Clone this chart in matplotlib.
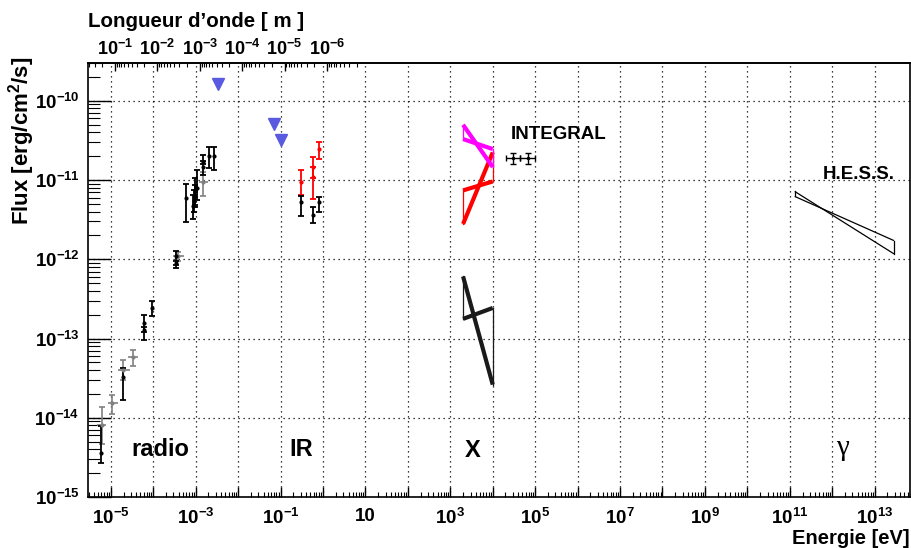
import numpy as np
import matplotlib
matplotlib.use("Agg")
import matplotlib.pyplot as plt
from matplotlib import ticker

# --- donnees (E en eV, flux en erg/cm2/s) ---

# radio, points noirs : E, F, F bas, F haut
radio_E = [6.0e-6, 1.97e-5, 6.05e-5, 6.05e-5, 9.2e-5, 3.43e-4, 3.43e-4, 5.9e-4,
           8.87e-4, 9.12e-4, 9.63e-4, 9.9e-4, 1.06e-3, 1.46e-3, 1.46e-3, 2.09e-3, 2.74e-3]
radio_F = [3.6e-15, 3.3e-14, 1.57e-13, 1.29e-13, 2.43e-13, 1.09e-12, 8.98e-13, 6.0e-12,
           4.64e-12, 5.48e-12, 6.34e-12, 7.18e-12, 8.0e-12, 1.48e-11, 1.67e-11, 1.99e-11, 1.99e-11]
radio_Flo = [2.7e-15, 1.66e-14, 9.7e-14, 1.2e-13, 1.95e-13, 7.8e-13, 8.5e-13, 2.95e-12,
             3.25e-12, 3.98e-12, 4.6e-12, 4.89e-12, 5.65e-12, 1.17e-11, 1.6e-11, 1.42e-11, 1.35e-11]
radio_Fhi = [7.8e-15, 4.2e-14, 1.96e-13, 1.4e-13, 2.94e-13, 1.26e-12, 9.5e-13, 8.97e-12,
             6.53e-12, 7.55e-12, 8.73e-12, 1.07e-11, 1.35e-11, 2.08e-11, 1.75e-11, 2.61e-11, 2.65e-11]

# radio, points gris
gray_E = [6.1e-6, 1.08e-5, 1.97e-5, 3.28e-5, 3.89e-4, 1.51e-3]
gray_Elo = [4.8e-6, 8.45e-6, 1.46e-5, 2.5e-5, 2.92e-4, 1.2e-3]
gray_Ehi = [7.9e-6, 1.5e-5, 2.83e-5, 4.45e-5, 5.38e-4, 1.98e-3]
gray_F = [8.2e-15, 1.54e-14, 4.06e-14, 5.86e-14, 1.09e-12, 9.33e-12]
gray_Flo = [4.6e-15, 1.1e-14, 3.03e-14, 4.55e-14, 9.5e-13, 6.34e-12]
gray_Fhi = [1.35e-14, 1.96e-14, 5.42e-14, 7.26e-14, 1.22e-12, 1.28e-11]

# limites superieures
ul_E = [3.3e-3, 0.07, 0.1]
ul_F = [1.64e-10, 5.13e-11, 3.16e-11]

# infrarouge
ir_red_E = [0.297, 0.589, 0.589, 0.804]
ir_red_F = [9.44e-12, 1.46e-11, 1.09e-11, 2.46e-11]
ir_red_Flo = [6.53e-12, 1.07e-11, 5.75e-12, 1.86e-11]
ir_red_Fhi = [1.32e-11, 1.95e-11, 1.47e-11, 2.98e-11]
ir_blk_E = [0.297, 0.589, 0.804]
ir_blk_F = [5.22e-12, 3.65e-12, 5.22e-12]
ir_blk_Flo = [3.55e-12, 2.87e-12, 3.94e-12]
ir_blk_Fhi = [6.21e-12, 4.52e-12, 6.11e-12]

# INTEGRAL
int_E = [2.94e4, 6.84e4]
int_Elo = [2.01e4, 4.36e4]
int_Ehi = [4.36e4, 9.84e4]
int_F = [1.89e-11, 1.89e-11]
int_Flo = [1.6e-11, 1.6e-11]
int_Fhi = [2.21e-11, 2.21e-11]

# papillons : [gauche haut, gauche bas, droite haut, droite bas]
x_band = [2e3, 1e4]
x_magenta = [4.98e-11, 3.29e-11, 2.46e-11, 1.46e-11]
x_red = [7.4e-12, 2.79e-12, 2.23e-11, 9.6e-12]
x_black = [6.08e-13, 1.77e-13, 2.43e-13, 2.62e-14]
hess_band = [1.31e11, 2.86e13]
hess_F = [7.18e-12, 6.21e-12, 1.72e-12, 1.17e-12]

HC = 1.2398e-6  # eV m

plt.rcParams['font.family'] = ['Liberation Sans', 'DejaVu Sans']
plt.rcParams['font.weight'] = 'bold'
plt.rcParams['mathtext.fontset'] = 'custom'
plt.rcParams['mathtext.rm'] = 'Liberation Sans:bold'
plt.rcParams['mathtext.it'] = 'Liberation Sans:bold'
plt.rcParams['mathtext.bf'] = 'Liberation Sans:bold'
plt.rcParams['mathtext.default'] = 'rm'


def yerr(F, lo, hi):
    F = np.array(F)
    return [F - np.array(lo), np.array(hi) - F]


def butterfly(E, p, color, lw):
    ax.plot(E, [p[0], p[3]], color=color, lw=lw, solid_capstyle='butt')
    ax.plot(E, [p[1], p[2]], color=color, lw=lw, solid_capstyle='butt')
    ax.plot([E[0], E[0]], [p[1], p[0]], color=color, lw=0.9)
    ax.plot([E[1], E[1]], [p[3], p[2]], color=color, lw=0.9)


def e_to_lam(e):
    e = np.asarray(e, dtype=float)
    with np.errstate(divide='ignore', invalid='ignore'):
        return HC / np.where(e > 0, e, 1e-300)


fig = plt.figure(figsize=(9.12, 5.48), dpi=100)
ax = fig.add_axes([88 / 912, 1 - 497 / 548, 822.5 / 912, 434 / 548])
ax.set_xscale('log')
ax.set_yscale('log')
ax.set_xlim(2.9e-6, 7e13)
ax.set_ylim(1e-15, 3e-10)

ax.grid(True, which='major', color='k', linestyle=(0, (1, 3)), linewidth=0.9)
ax.set_axisbelow(True)

# radio
ax.errorbar(gray_E, gray_F, xerr=yerr(gray_E, gray_Elo, gray_Ehi), fmt='none',
            ecolor='0.5', elinewidth=1.2)
ax.errorbar(gray_E, gray_F, yerr=yerr(gray_F, gray_Flo, gray_Fhi), fmt='o', ms=2,
            color='0.5', elinewidth=1.2, capsize=2.5, capthick=1.2)
ax.errorbar(radio_E, radio_F, yerr=yerr(radio_F, radio_Flo, radio_Fhi), fmt='o', ms=2,
            color='k', elinewidth=1.3, capsize=2.5, capthick=1.3)

# limites
ax.plot(ul_E, ul_F, 'v', ms=8, color='#5a5ae0', mec='#5a5ae0')

# IR
ax.errorbar(ir_red_E, ir_red_F, yerr=yerr(ir_red_F, ir_red_Flo, ir_red_Fhi), fmt='o', ms=2,
            color='red', elinewidth=1.3, capsize=2.5, capthick=1.3)
ax.errorbar(ir_blk_E, ir_blk_F, yerr=yerr(ir_blk_F, ir_blk_Flo, ir_blk_Fhi), fmt='o', ms=2,
            color='k', elinewidth=1.3, capsize=2.5, capthick=1.3)

# X
butterfly(x_band, x_red, 'red', 3)
butterfly(x_band, x_magenta, 'magenta', 3)
butterfly(x_band, x_black, '#1a1a1a', 3)

ax.errorbar(int_E, int_F, xerr=yerr(int_E, int_Elo, int_Ehi), yerr=yerr(int_F, int_Flo, int_Fhi),
            fmt='o', ms=1.5, color='k', elinewidth=1, capsize=2.5, capthick=1)

# gamma
butterfly(hess_band, hess_F, 'k', 0.9)

# textes
ax.text(1.44e-4, 4.0e-15, 'radio', fontsize=17, ha='center', va='center')
ax.text(0.30, 4.0e-15, 'IR', fontsize=17, ha='center', va='center')
ax.text(3.4e3, 3.9e-15, 'X', fontsize=17, ha='center', va='center')
ax.text(1.78e12, 4.2e-15, 'γ', fontsize=21, ha='center', va='center',
        family='Liberation Serif', weight='normal')
ax.text(3.6e5, 3.72e-11, 'INTEGRAL', fontsize=13.5, ha='center', va='center')
ax.text(4.2e12, 1.17e-11, 'H.E.S.S.', fontsize=13.5, ha='center', va='center')

# axe x (energie)
xdec = np.arange(-5, 14)
ax.xaxis.set_major_locator(ticker.FixedLocator(10.0 ** xdec))
xlabels = []
for k in xdec:
    if k % 2 == 0:
        xlabels.append('')
    elif k == 1:
        xlabels.append('10')
    else:
        xlabels.append(r'$10^{%d}$' % k)
ax.xaxis.set_major_formatter(ticker.FixedFormatter(xlabels))
ax.xaxis.set_minor_locator(ticker.LogLocator(base=10, subs=np.arange(2, 10), numticks=100))
ax.xaxis.set_minor_formatter(ticker.NullFormatter())

# axe y (flux)
ydec = np.arange(-15, -9)
ax.yaxis.set_major_locator(ticker.FixedLocator(10.0 ** ydec))
ax.yaxis.set_major_formatter(ticker.FixedFormatter([r'$10^{%d}$' % k for k in ydec]))
ax.yaxis.set_minor_locator(ticker.LogLocator(base=10, subs=np.arange(2, 10), numticks=100))
ax.yaxis.set_minor_formatter(ticker.NullFormatter())

ax.tick_params(axis='x', which='major', direction='in', length=7, width=1, top=False,
               labelsize=13.5, pad=8)
ax.tick_params(axis='x', which='minor', direction='in', length=3.6, width=0.8, top=False)
ax.tick_params(axis='y', which='major', direction='in', length=16.5, width=1, right=False,
               labelsize=13.5, pad=6)
ax.tick_params(axis='y', which='minor', direction='in', length=8.6, width=0.8, right=False)
for s in ax.spines.values():
    s.set_linewidth(1.2)

# axe du haut (longueur d'onde)
secax = ax.secondary_xaxis('top', functions=(e_to_lam, e_to_lam))
lam_major = [1e-1, 1e-2, 1e-3, 1e-4, 1e-5, 1e-6]
lam_minor = [m * 10.0 ** k for k in range(-7, 0) for m in range(2, 10)
             if 2e-7 <= m * 10.0 ** k <= 0.42]
secax.set_xticks(lam_major, labels=[r'$10^{%d}$' % k for k in range(-1, -7, -1)])
secax.xaxis.set_minor_locator(ticker.FixedLocator(lam_minor))
secax.xaxis.set_minor_formatter(ticker.NullFormatter())
secax.tick_params(which='major', direction='in', length=6, width=1, labelsize=13, pad=3)
secax.tick_params(which='minor', direction='in', length=3, width=0.8)
secax.spines['top'].set_linewidth(1.2)

# titres
fig.text(88 / 912, 1 - 27 / 548, 'Longueur d\u2019onde [ m ]', fontsize=14.8,
         ha='left', va='baseline')
fig.text(910 / 912, 1 - 544 / 548, 'Energie [eV]', fontsize=14.5,
         ha='right', va='baseline')
fig.text(22 / 912, 1 - 57 / 548, r'Flux [erg/cm$^{2}$/s]', fontsize=16, rotation=90,
         ha='center', va='top')

fig.savefig('out.png', dpi=100)
